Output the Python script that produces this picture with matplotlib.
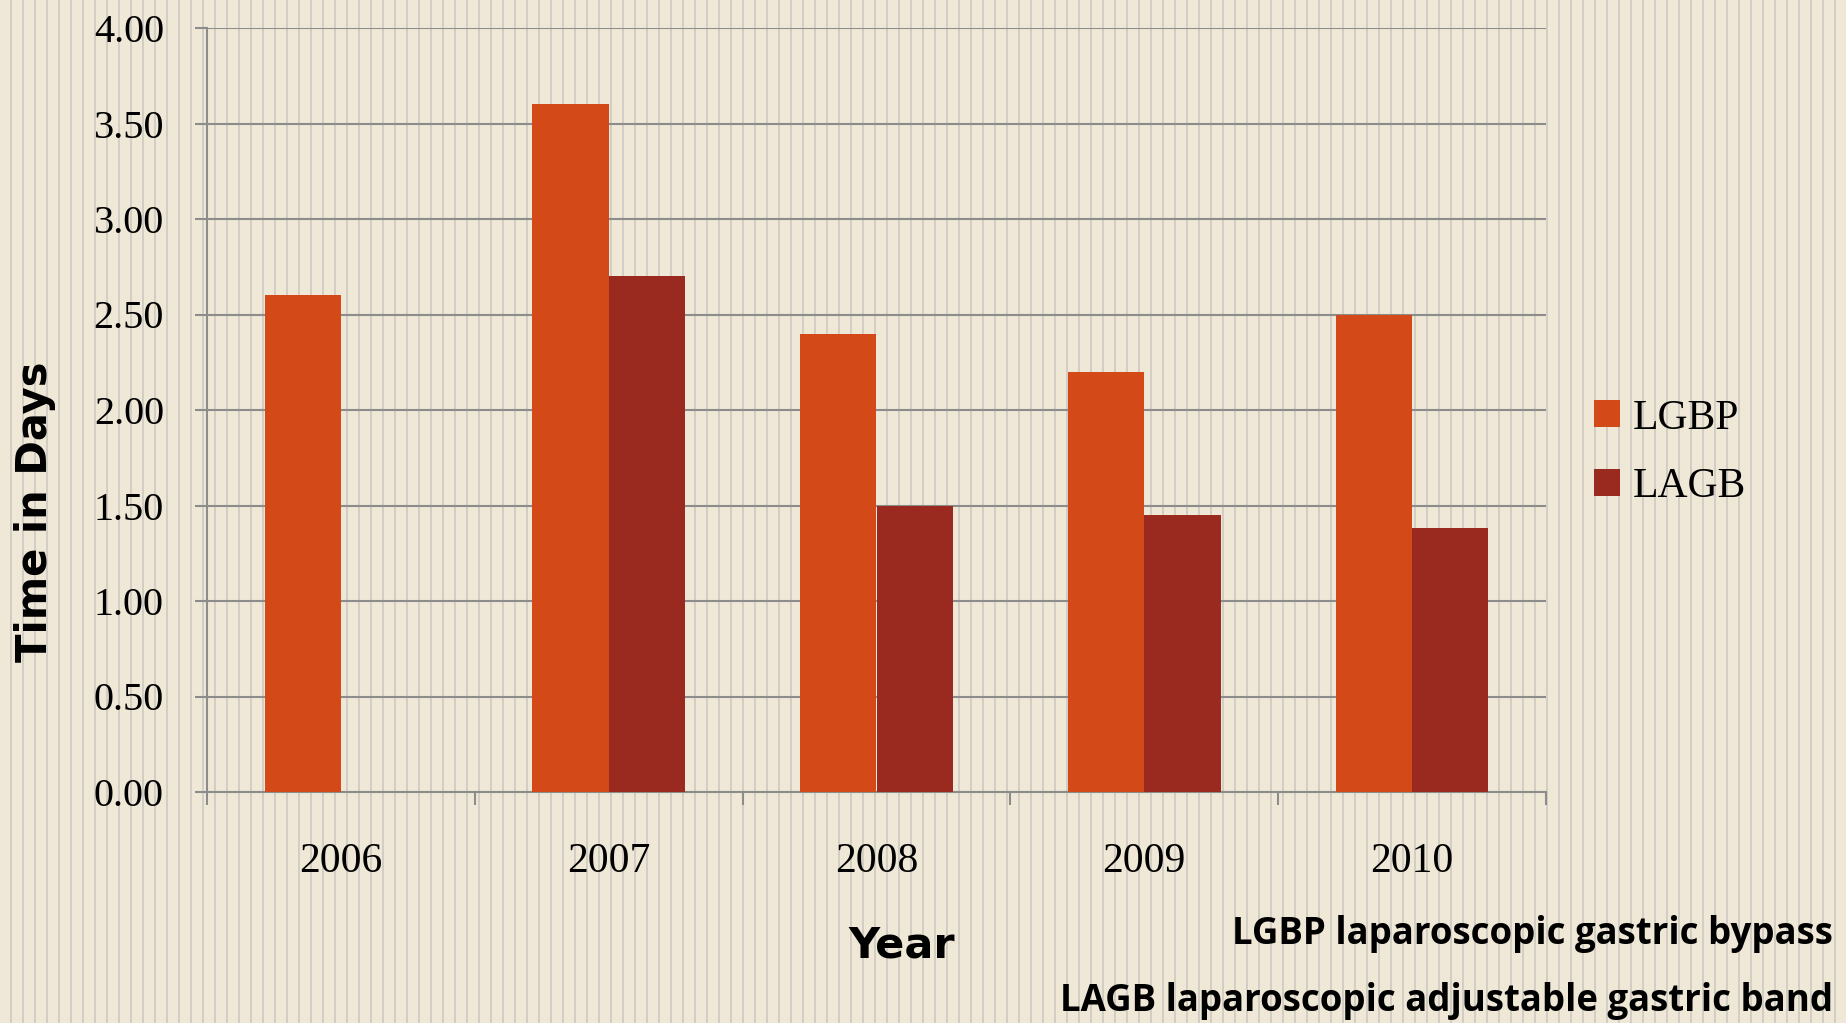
import matplotlib
matplotlib.use("Agg")
import matplotlib.pyplot as plt
import numpy as np
from matplotlib.lines import Line2D

years = ["2006", "2007", "2008", "2009", "2010"]
lgbp = [2.60, 3.60, 2.40, 2.20, 2.50]
lagb = [0.00, 2.70, 1.50, 1.45, 1.38]
yticks = [0.0, 0.5, 1.0, 1.5, 2.0, 2.5, 3.0, 3.5, 4.0]
ytick_labels = ["0.00", "0.50", "1.00", "1.50", "2.00", "2.50", "3.00", "3.50", "4.00"]

C_LGBP = "#D34917"
C_LAGB = "#9A2A1F"
BG = "#F0E8D7"
STRIPE = "#CDC8C2"
GRID = "#8C8C8C"

W, H, DPI = 1846, 1023, 100
fig = plt.figure(figsize=(W / DPI, H / DPI), dpi=DPI, facecolor=BG)

# background stripes (lined paper)
for px in np.arange(11, W, 12):
    fig.add_artist(Line2D([px / W, px / W], [0, 1], transform=fig.transFigure,
                          color=STRIPE, lw=1.2, zorder=0))

left, right, bottom, top = 207 / W, 1546 / W, 1 - 792 / H, 1 - 28 / H
ax = fig.add_axes([left, bottom, right - left, top - bottom])
ax.set_facecolor("none")
ax.set_zorder(1)

x = np.arange(len(years))
w = 0.285
ax.bar(x - w / 2, lgbp, width=w, color=C_LGBP, label="LGBP", zorder=3)
ax.bar(x + w / 2, lagb, width=w, color=C_LAGB, label="LAGB", zorder=3)

ax.set_xlim(-0.5, len(years) - 0.5)
ax.set_ylim(0, 4.0)

ax.set_yticks(yticks)
ax.set_yticklabels(ytick_labels, fontfamily="Liberation Serif", fontsize=29)
ax.yaxis.grid(True, color=GRID, lw=1.5, zorder=1)
ax.tick_params(axis="y", length=9, width=1.5, color=GRID, pad=22, direction="out")

ax.set_xticks(np.arange(-0.5, len(years), 1.0))
ax.set_xticklabels([])
ax.tick_params(axis="x", which="major", length=9.5, width=1.5, color=GRID, direction="out")
ax.set_xticks(x, minor=True)
ax.set_xticklabels(years, minor=True, fontfamily="Liberation Serif", fontsize=30)
ax.tick_params(axis="x", which="minor", length=0, pad=36)

for s in ["top", "right"]:
    ax.spines[s].set_visible(False)
for s in ["left", "bottom"]:
    ax.spines[s].set_color(GRID)
    ax.spines[s].set_linewidth(1.5)

leg = ax.legend(loc="center left", bbox_to_anchor=(1.036, 0.444), frameon=False,
                prop={"family": "Liberation Serif", "size": 30},
                handlelength=0.62, handleheight=0.62, handletextpad=0.3,
                labelspacing=0.73, borderpad=0, borderaxespad=0)

fig.text(35 / W, 1 - 512 / H, "Time in Days", rotation=90, ha="center", va="center",
         fontsize=30, fontweight="bold", family="DejaVu Sans")
fig.text(902 / W, 1 - 946 / H, "Year", ha="center", va="center",
         fontsize=31, fontweight="bold", family="DejaVu Sans")
fig.text(1833 / W, 1 - 934 / H, "LGBP laparoscopic gastric bypass", ha="right", va="center",
         fontsize=26.4, fontweight="bold", family="Open Sans")
fig.text(1833 / W, 1 - 1001 / H, "LAGB laparoscopic adjustable gastric band", ha="right", va="center",
         fontsize=26.4, fontweight="bold", family="Open Sans")

fig.savefig("out.png", dpi=DPI, facecolor=BG)
